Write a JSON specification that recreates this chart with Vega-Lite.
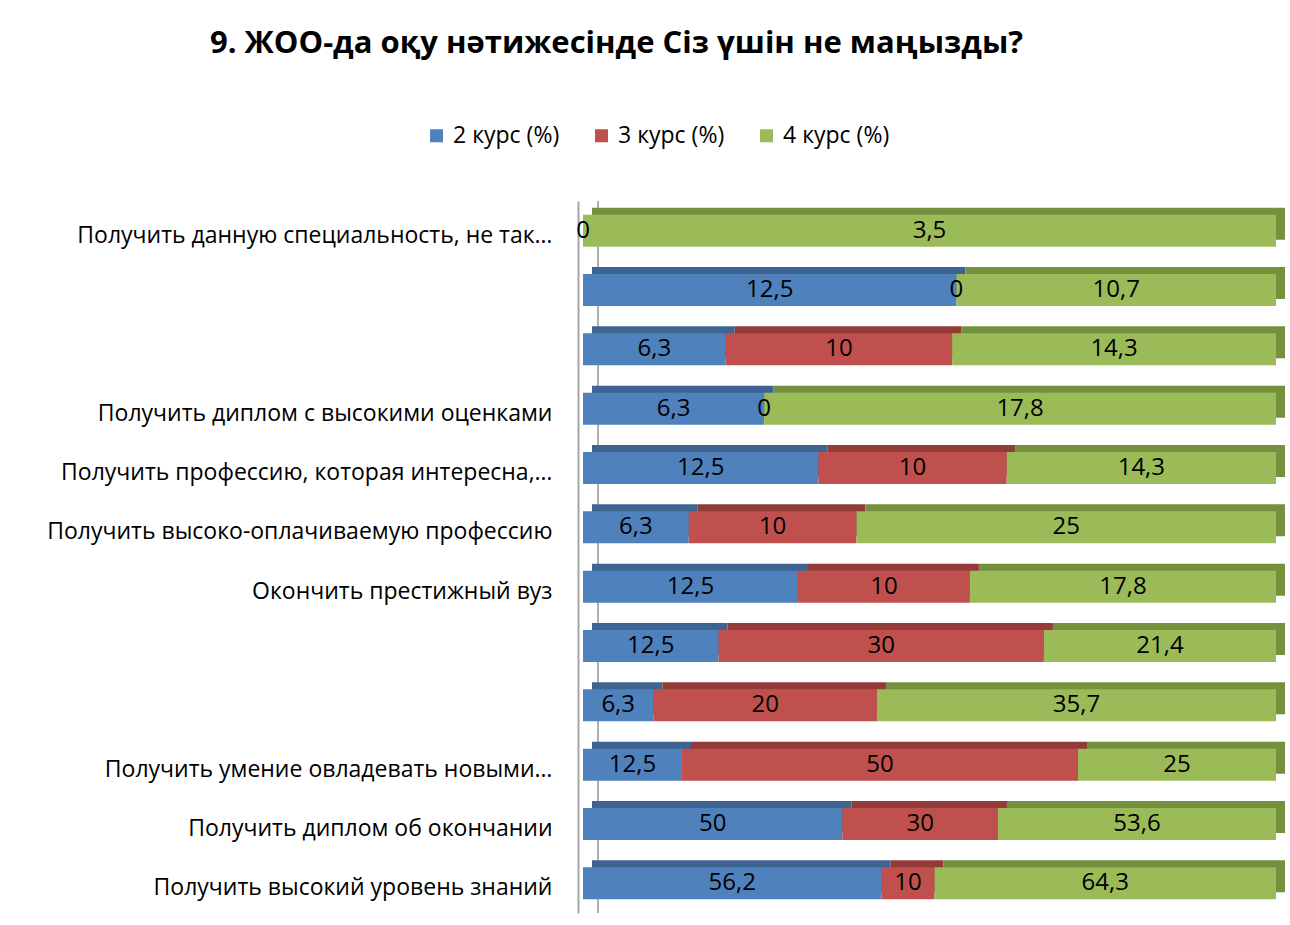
{
  "$schema": "https://vega.github.io/schema/vega-lite/v6.json",
  "autosize": "none",
  "width": 693,
  "height": 712,
  "padding": {"left": 583, "top": 201, "right": 14, "bottom": 12},
  "background": "white",
  "config": {
    "view": {"stroke": null},
    "font": "Open Sans",
    "locale": {"number": {"decimal": ",", "thousands": " ", "grouping": [3], "currency": ["", ""]}}
  },
  "title": {
    "text": "9. ЖОО-да оқу нәтижесінде Сіз үшін не маңызды?",
    "fontSize": 31,
    "fontWeight": "bold",
    "font": "Open Sans",
    "color": "black",
    "anchor": "middle",
    "frame": "group",
    "dx": -313,
    "offset": 64
  },
  "data": {
    "values": [
      {"n": 1, "kurs": "2 курс (%)", "v": 0},
      {"n": 1, "kurs": "4 курс (%)", "v": 3.5},
      {"n": 2, "kurs": "2 курс (%)", "v": 12.5},
      {"n": 2, "kurs": "3 курс (%)", "v": 0},
      {"n": 2, "kurs": "4 курс (%)", "v": 10.7},
      {"n": 3, "kurs": "2 курс (%)", "v": 6.3},
      {"n": 3, "kurs": "3 курс (%)", "v": 10},
      {"n": 3, "kurs": "4 курс (%)", "v": 14.3},
      {"n": 4, "kurs": "2 курс (%)", "v": 6.3},
      {"n": 4, "kurs": "3 курс (%)", "v": 0},
      {"n": 4, "kurs": "4 курс (%)", "v": 17.8},
      {"n": 5, "kurs": "2 курс (%)", "v": 12.5},
      {"n": 5, "kurs": "3 курс (%)", "v": 10},
      {"n": 5, "kurs": "4 курс (%)", "v": 14.3},
      {"n": 6, "kurs": "2 курс (%)", "v": 6.3},
      {"n": 6, "kurs": "3 курс (%)", "v": 10},
      {"n": 6, "kurs": "4 курс (%)", "v": 25},
      {"n": 7, "kurs": "2 курс (%)", "v": 12.5},
      {"n": 7, "kurs": "3 курс (%)", "v": 10},
      {"n": 7, "kurs": "4 курс (%)", "v": 17.8},
      {"n": 8, "kurs": "2 курс (%)", "v": 12.5},
      {"n": 8, "kurs": "3 курс (%)", "v": 30},
      {"n": 8, "kurs": "4 курс (%)", "v": 21.4},
      {"n": 9, "kurs": "2 курс (%)", "v": 6.3},
      {"n": 9, "kurs": "3 курс (%)", "v": 20},
      {"n": 9, "kurs": "4 курс (%)", "v": 35.7},
      {"n": 10, "kurs": "2 курс (%)", "v": 12.5},
      {"n": 10, "kurs": "3 курс (%)", "v": 50},
      {"n": 10, "kurs": "4 курс (%)", "v": 25},
      {"n": 11, "kurs": "2 курс (%)", "v": 50},
      {"n": 11, "kurs": "3 курс (%)", "v": 30},
      {"n": 11, "kurs": "4 курс (%)", "v": 53.6},
      {"n": 12, "kurs": "2 курс (%)", "v": 56.2},
      {"n": 12, "kurs": "3 курс (%)", "v": 10},
      {"n": 12, "kurs": "4 курс (%)", "v": 64.3}
    ]
  },
  "transform": [
    {"stack": "v", "groupby": ["n"], "offset": "normalize", "sort": [{"field": "kurs", "order": "ascending"}], "as": ["v0", "v1"]},
    {"calculate": "(datum.v0 + datum.v1) / 2", "as": "mid"}
  ],
  "layer": [
    {
      "mark": {"type": "text", "opacity": 0},
      "encoding": {
        "y": {
          "field": "n", "type": "ordinal",
          "scale": {"paddingInner": 0.46, "paddingOuter": 0.23},
          "axis": {
            "title": null,
            "ticks": false,
            "offset": 5,
            "domainColor": "#a6a6a6",
            "domainWidth": 2,
            "labelFontSize": 23,
            "labelFont": "Open Sans",
            "labelColor": "black",
            "labelPadding": 26,
            "labelOffset": 5,
            "labelLimit": 600,
            "labelExpr": "['Получить данную специальность, не так…', '', '', 'Получить диплом с высокими оценками', 'Получить профессию, которая интересна,…', 'Получить высоко-оплачиваемую профессию', 'Окончить престижный вуз', '', '', 'Получить умение овладевать новыми…', 'Получить диплом об окончании', 'Получить высокий уровень знаний'][datum.value - 1]"
          }
        },
        "x": {"field": "mid", "type": "quantitative", "scale": {"domain": [0, 1]}, "axis": null},
        "text": {"value": ""}
      }
    },
    {
      "transform": [{"filter": "datum.n == 1 && datum.kurs == '2 курс (%)'"}],
      "mark": {"type": "rule", "color": "#b0b0b0", "strokeWidth": 2, "xOffset": 15},
      "encoding": {"x": {"datum": 0, "type": "quantitative", "scale": {"domain": [0, 1]}, "axis": null}}
    },
    {
      "layer": [
        {
          "mark": {"type": "bar", "xOffset": 9, "x2Offset": 9, "yOffset": -7, "y2Offset": -7},
          "encoding": {
            "y": {"field": "n", "type": "ordinal"},
            "x": {"field": "v0", "type": "quantitative", "scale": {"domain": [0, 1]}, "axis": null},
            "x2": {"field": "v1"},
            "color": {"field": "kurs", "type": "nominal", "scale": {"range": ["#3e6592", "#933b39", "#76913e"]}, "legend": null}
          }
        },
        {
          "mark": {"type": "bar"},
          "encoding": {
            "y": {"field": "n", "type": "ordinal"},
            "x": {"field": "v0", "type": "quantitative", "scale": {"domain": [0, 1]}, "axis": null},
            "x2": {"field": "v1"},
            "color": {
              "field": "kurs", "type": "nominal",
              "scale": {"range": ["#4f81bd", "#c0504d", "#9bbb59"]},
              "legend": {
                "orient": "none",
                "legendX": -158,
                "legendY": -77,
                "direction": "horizontal",
                "title": null,
                "symbolType": "square",
                "symbolSize": 170,
                "symbolStrokeWidth": 0,
                "labelFontSize": 23,
                "labelFont": "Open Sans",
                "labelColor": "black",
                "labelOffset": 5,
                "columnPadding": 30
              }
            }
          }
        }
      ],
      "resolve": {"scale": {"color": "independent"}}
    },
    {
      "mark": {"type": "text", "fontSize": 24, "color": "black", "font": "Open Sans"},
      "encoding": {
        "y": {"field": "n", "type": "ordinal"},
        "x": {"field": "mid", "type": "quantitative", "scale": {"domain": [0, 1]}, "axis": null},
        "text": {"field": "v", "type": "quantitative", "format": ".4~g"}
      }
    }
  ]
}
